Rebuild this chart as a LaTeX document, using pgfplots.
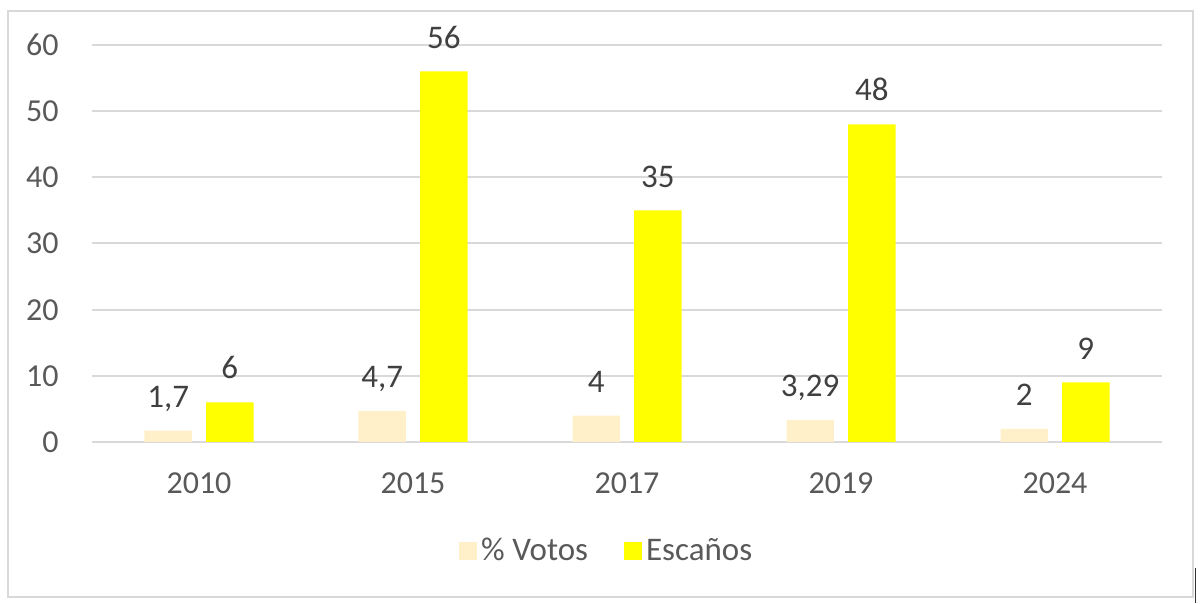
\documentclass[border=0pt]{standalone}
\usepackage{pgfplots}
\pgfplotsset{compat=1.18}
\usepackage{fontspec}
\setmainfont{Carlito}
\definecolor{votos}{HTML}{FFF0C9}
\definecolor{escanos}{HTML}{FFFF00}
\definecolor{gridc}{HTML}{D9D9D9}
\definecolor{tickc}{HTML}{595959}
\definecolor{labc}{HTML}{404040}
\begin{document}
\begin{tikzpicture}
\path (-46pt,-80.5pt) rectangle (554pt,221pt);
\draw[gridc, line width=1pt] (-41.85pt,-77.35pt) rectangle (550.35pt,215.5pt);
\draw[black!80, line width=0.6pt] (551.85pt,-63pt) -- (551.85pt,-80.5pt);
\begin{axis}[
  at={(0,0)}, anchor=south west,
  scale only axis, width=535pt, height=198.5pt,
  xmin=-0.5, xmax=4.5, ymin=0, ymax=60,
  ybar, bar width=23.7pt,
  xtick={0,1,2,3,4},
  xticklabels={2010,2015,2017,2019,2024},
  ytick={0,10,20,30,40,50,60},
  ymajorgrids, grid style={gridc, line width=1pt},
  axis line style={draw=none},
  major tick length=0pt,
  clip=false,
  /pgf/number format/assume math mode=true,
  tick label style={font=\fontsize{16}{19}\selectfont, text=tickc, inner sep=0pt, text depth=0pt},
  yticklabel style={anchor=east, xshift=-16.5pt},
  xticklabel style={anchor=base, yshift=-26pt},
  point meta=explicit symbolic,
  nodes near coords,
  every node near coord/.append style={font=\fontsize{16.5}{19}\selectfont, text=labc, inner sep=0pt, text depth=0pt, anchor=south, yshift=11.5pt},
  legend columns=2,
  legend style={at={(0.482,-0.2746)}, anchor=center, draw=none, fill=none,
    font=\fontsize{16.5}{19}\selectfont, text=tickc,
    /tikz/every even column/.append style={column sep=16pt}},
  legend image code/.code={\fill[#1] (0pt,-4.5pt) rectangle (9pt,4.5pt);},
]
\addplot[fill=votos, draw=none, bar shift=-15.4pt] coordinates {
  (0,1.7) [1,7]
  (1,4.7) [4,7]
  (2,4) [4]
  (3,3.29) [3,29]
  (4,2) [2]
};
\addlegendentry{\% Votos}
\addplot[fill=escanos, draw=none, bar shift=15.4pt] coordinates {
  (0,6) [6]
  (1,56) [56]
  (2,35) [35]
  (3,48) [48]
  (4,9) [9]
};
\addlegendentry{Escaños}
\end{axis}
\end{tikzpicture}
\end{document}
